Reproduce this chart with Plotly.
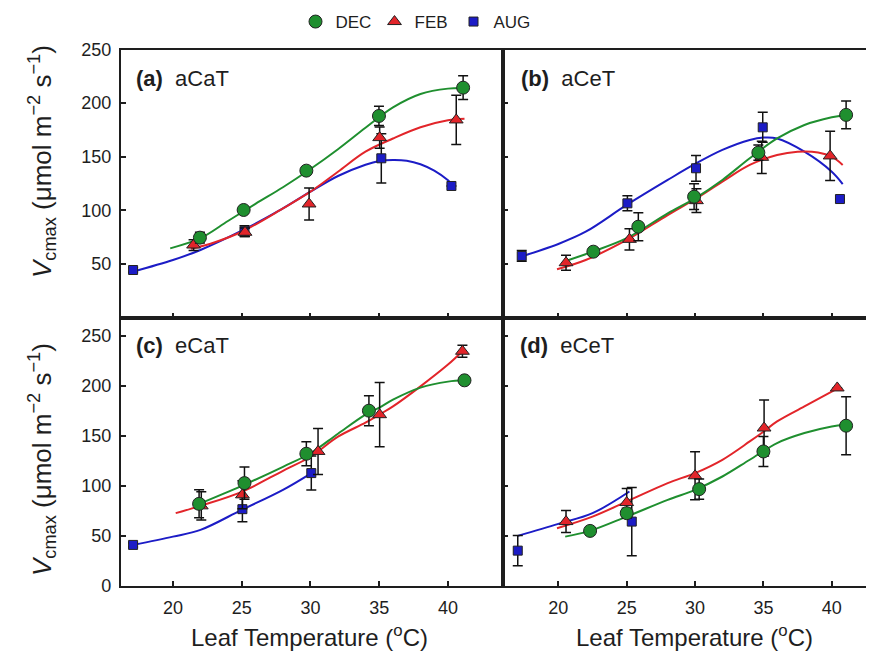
import plotly.graph_objects as go

# ---------------- data ----------------
series_names = ["DEC", "FEB", "AUG"]
tick_x = [20, 25, 30, 35, 40]
tick_y_top = [50, 100, 150, 200, 250]
tick_y_bottom = [0, 50, 100, 150, 200, 250]
panel_titles = ["aCaT", "aCeT", "eCaT", "eCeT"]
panel_letters = ["(a)", "(b)", "(c)", "(d)"]

# panel (a) aCaT
a_dec_x = [21.96, 25.14, 29.7, 34.98, 41.1]
a_dec_y = [74.5, 100.3, 137, 188, 214.4]
a_dec_e = [5, 3, 3, 9, 11]
a_feb_x = [21.5, 25.24, 29.9, 35.03, 40.6]
a_feb_y = [67.6, 79.5, 105.9, 167.8, 184.3]
a_feb_e = [5, 4, 15, 10, 23]
a_aug_x = [17.1, 25.2, 35.15, 40.25]
a_aug_y = [44.3, 80.5, 148.5, 122.7]
a_aug_e = [2, 5, 23, None]
a_dec_cx = [19.8, 22, 24, 26, 28, 30, 32, 34, 36, 38, 40, 41.2]
a_dec_cy = [64.5, 74, 90, 106, 121.5, 138.5, 157, 177, 196, 208.5, 213.5, 214]
a_feb_cx = [21.3, 23, 25, 28, 30, 32, 34, 36, 38, 40, 41.2]
a_feb_cy = [64, 70, 80, 101.8, 117.4, 136, 154.7, 167, 177.5, 184, 185.5]
a_aug_cx = [17.1, 20, 22, 25, 28, 30, 32, 34, 35, 36, 37, 38, 39, 40, 40.3]
a_aug_cy = [42.8, 53.6, 63, 81, 101.8, 117.4, 132, 142.5, 146, 147, 146.3, 143, 137, 128, 124]

# panel (b) aCeT
b_dec_x = [22.56, 25.85, 29.93, 34.63, 41.05]
b_dec_y = [61.4, 84.7, 112.7, 153.8, 189]
b_dec_e = [3, 13, 12, 7, 13]
b_feb_x = [20.56, 25.2, 30.1, 34.88, 39.88]
b_feb_y = [51.1, 72.9, 109, 149.4, 150.7]
b_feb_e = [7, 10, 11, 15, 23]
b_aug_x = [17.32, 25.05, 30.07, 34.95, 40.6]
b_aug_y = [57.4, 106.5, 139.2, 177.4, 110.5]
b_aug_e = [5, 7, 12, 14, None]
b_dec_cx = [20.6, 22.5, 25, 28, 30, 32, 34, 36, 38, 40, 41]
b_dec_cy = [53, 61.4, 74, 97.2, 111.2, 128.3, 148.5, 167, 179.6, 186.8, 189]
b_feb_cx = [19.9, 22, 25, 28, 30, 32, 34, 36, 37.5, 39, 40, 40.8]
b_feb_cy = [45, 53.6, 72.3, 95.6, 110.3, 126.7, 142.3, 151.6, 154.7, 154, 150, 142.3]
b_aug_cx = [17.3, 20, 22, 25, 28, 30, 32, 34, 35, 36, 38, 40, 40.8]
b_aug_cy = [57, 68.6, 80, 105, 128.3, 143.2, 156.3, 165.6, 167.8, 167, 154.7, 136, 124.5]

# panel (c) eCaT
c_dec_x = [21.9, 25.2, 29.7, 34.25, 41.2]
c_dec_y = [82, 102.7, 132, 175, 205.3]
c_dec_e = [14, 16, 12, 15, None]
c_feb_x = [22.06, 25.05, 30.55, 35.03, 41.05]
c_feb_y = [80, 91, 134.3, 171, 234.3]
c_feb_e = [14, 14, 23, 32, 6]
c_aug_x = [17.1, 25.05, 30.06]
c_aug_y = [41, 76.7, 112.7]
c_aug_e = [2, 12.5, 17]
c_dec_cx = [21.9, 25, 28, 30, 32, 34, 35, 36, 38, 40, 41.2]
c_dec_cy = [82, 100, 119, 132.5, 152, 171, 178, 186, 198, 204, 205.3]
c_feb_cx = [20.2, 22, 25, 28, 30, 32, 34, 35, 36, 38, 40, 41.05]
c_feb_cy = [72.7, 80, 94, 115, 129, 149, 163, 171, 179.3, 199.3, 221, 234.3]
c_aug_cx = [17.1, 20, 22, 25, 28, 30.1]
c_aug_cy = [41, 49.3, 56, 76, 96, 113]

# panel (d) eCeT
d_dec_x = [22.32, 25.0, 30.3, 35.0, 41.05]
d_dec_y = [55, 72.7, 96.7, 134.3, 160]
d_dec_e = [4, 5, 10, 15, 29]
d_feb_x = [20.56, 25.0, 30.0, 35.05, 40.4]
d_feb_y = [64.3, 83.3, 110, 157.7, 197.7]
d_feb_e = [11, 14, 24, 28, None]
d_aug_x = [17.03, 25.37]
d_aug_y = [35.3, 64.3]
d_aug_e = [15, 34]
d_dec_cx = [20.5, 22.3, 25, 28, 30, 32, 34, 36, 38, 40, 41]
d_dec_cy = [49.3, 55, 69.3, 86, 96, 109.3, 126, 142.7, 152.7, 159.3, 161]
d_feb_cx = [19.9, 22.5, 25, 28, 30, 32, 34, 35, 36, 38, 40.4]
d_feb_cy = [57.7, 69.3, 84.3, 102.7, 112.7, 126, 144.3, 154, 164.3, 179.3, 197]
d_aug_cx = [17.03, 20, 22.5, 25.2]
d_aug_cy = [50, 62, 72.7, 94.3]

# ---------------- styles ----------------
FONT = "Liberation Sans, Arial, Helvetica, sans-serif"
INK = "#1e1e1e"
col = {"DEC": "#1f8f2f", "FEB": "#e2252a", "AUG": "#1c1cc6"}
sym = {"DEC": "circle", "FEB": "triangle-up", "AUG": "square"}
msize = {"DEC": 13, "FEB": 12, "AUG": 9}

panels = [
    ("x", "y", {"DEC": (a_dec_x, a_dec_y, a_dec_e, a_dec_cx, a_dec_cy),
                "FEB": (a_feb_x, a_feb_y, a_feb_e, a_feb_cx, a_feb_cy),
                "AUG": (a_aug_x, a_aug_y, a_aug_e, a_aug_cx, a_aug_cy)}),
    ("x2", "y2", {"DEC": (b_dec_x, b_dec_y, b_dec_e, b_dec_cx, b_dec_cy),
                  "FEB": (b_feb_x, b_feb_y, b_feb_e, b_feb_cx, b_feb_cy),
                  "AUG": (b_aug_x, b_aug_y, b_aug_e, b_aug_cx, b_aug_cy)}),
    ("x3", "y3", {"DEC": (c_dec_x, c_dec_y, c_dec_e, c_dec_cx, c_dec_cy),
                  "FEB": (c_feb_x, c_feb_y, c_feb_e, c_feb_cx, c_feb_cy),
                  "AUG": (c_aug_x, c_aug_y, c_aug_e, c_aug_cx, c_aug_cy)}),
    ("x4", "y4", {"DEC": (d_dec_x, d_dec_y, d_dec_e, d_dec_cx, d_dec_cy),
                  "FEB": (d_feb_x, d_feb_y, d_feb_e, d_feb_cx, d_feb_cy),
                  "AUG": (d_aug_x, d_aug_y, d_aug_e, d_aug_cx, d_aug_cy)}),
]

fig = go.Figure()

# fitted curves first
for xa, ya, data in panels:
    for s in ["AUG", "FEB", "DEC"]:
        _, _, _, cx, cy = data[s]
        fig.add_trace(go.Scatter(x=cx, y=cy, mode="lines", xaxis=xa, yaxis=ya,
                                 line=dict(color=col[s], width=2, shape="spline", smoothing=1.0),
                                 showlegend=False, hoverinfo="skip"))

# data points with error bars
for i, (xa, ya, data) in enumerate(panels):
    for s in ["AUG", "FEB", "DEC"]:
        px, py, pe, _, _ = data[s]
        fig.add_trace(go.Scatter(
            x=px, y=py, mode="markers", xaxis=xa, yaxis=ya, name=s,
            legendgroup=s, showlegend=(i == 0), legendrank={"DEC": 1, "FEB": 2, "AUG": 3}[s],
            marker=dict(symbol=sym[s], size=msize[s], color=col[s],
                        line=dict(color="#222222", width=1)),
            error_y=dict(type="data", array=pe, color="#111111", thickness=1.5, width=5),
        ))

W, H = 874, 657
OFF = 8  # page body margin of the html page: screen px = paper px + OFF


def fx(px):
    return (px - OFF) / W


def fy(py):
    return 1 - (py - OFF) / H


x_left_dom = [fx(120.7), fx(503)]
x_right_dom = [fx(503), fx(874)]
y_top = [fy(317.5), fy(49.5)]
y_bot = [fy(586), fy(317.5)]

axis_common = dict(ticks="inside", ticklen=5, tickwidth=1.5, tickcolor=INK,
                   showline=True, linecolor=INK, linewidth=1.6, showgrid=False,
                   zeroline=False, tickfont=dict(family=FONT, size=18, color=INK))

xr_left = [16.2, 44.0]
xr_right = [15.95, 43.09]

fig.update_layout(
    width=W, height=H,
    margin=dict(l=0, r=0, t=0, b=0, autoexpand=False),
    paper_bgcolor="white", plot_bgcolor="white",
    font=dict(family=FONT, color=INK),
    xaxis=dict(domain=x_left_dom, range=xr_left, tickvals=tick_x, showticklabels=False,
               mirror=True, anchor="y", **axis_common),
    yaxis=dict(domain=y_top, range=[0, 250], tickvals=tick_y_top, mirror=True,
               anchor="x", ticklabelstandoff=4, **axis_common),
    xaxis2=dict(domain=x_right_dom, range=xr_right, tickvals=tick_x, showticklabels=False,
                mirror=True, anchor="y2", **axis_common),
    yaxis2=dict(domain=y_top, range=[0, 250], tickvals=tick_y_top, showticklabels=False,
                mirror=False, anchor="x2", **axis_common),
    xaxis3=dict(domain=x_left_dom, range=xr_left, tickvals=tick_x, mirror=True,
                anchor="y3", ticklabelstandoff=5, **axis_common),
    yaxis3=dict(domain=y_bot, range=[0, 268], tickvals=tick_y_bottom, mirror=True,
                anchor="x3", ticklabelstandoff=4, **axis_common),
    xaxis4=dict(domain=x_right_dom, range=xr_right, tickvals=tick_x, mirror=True,
                anchor="y4", ticklabelstandoff=5, **axis_common),
    yaxis4=dict(domain=y_bot, range=[0, 268], tickvals=tick_y_bottom, showticklabels=False,
                mirror=False, anchor="x4", **axis_common),
    legend=dict(orientation="h", x=fx(414), xanchor="center", y=fy(22) - 0.0, yanchor="middle",
                font=dict(family=FONT, size=17, color=INK), itemwidth=30,
                entrywidth=34, entrywidthmode="pixels",
                bgcolor="rgba(0,0,0,0)", traceorder="normal"),
    showlegend=True,
)

annots = []
label_pos = [(134, 79), (519, 79), (134, 345), (518, 345)]
for (lx, ly), letter, title in zip(label_pos, panel_letters, panel_titles):
    annots.append(dict(x=fx(lx), y=fy(ly), xref="paper", yref="paper",
                       xanchor="left", yanchor="middle", showarrow=False,
                       text="<b>" + letter + "</b> \u00a0" + title,
                       font=dict(family=FONT, size=22, color=INK)))

for cx_px in (309, 694):
    annots.append(dict(x=fx(cx_px), y=fy(636), xref="paper", yref="paper",
                       xanchor="center", yanchor="middle", showarrow=False,
                       text="Leaf Temperature (<sup>o</sup>C)",
                       font=dict(family=FONT, size=24, color=INK)))

ytitle = "<i>V</i><sub>cmax</sub> (\u03bcmol m<sup>\u22122</sup> s<sup>\u22121</sup>)"
for cy_px in (162, 460):
    annots.append(dict(x=fx(42), y=fy(cy_px), xref="paper", yref="paper",
                       xanchor="center", yanchor="middle", showarrow=False,
                       textangle=-90, text=ytitle,
                       font=dict(family=FONT, size=26, color=INK)))

fig.update_layout(annotations=annots)
fig.write_html("out.html")
